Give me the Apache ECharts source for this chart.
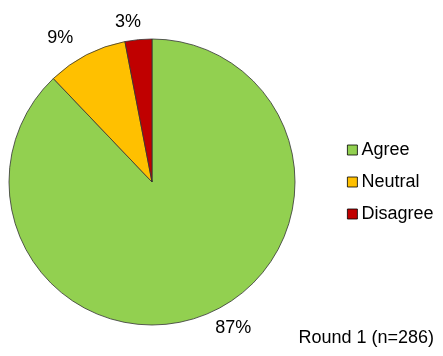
<!DOCTYPE html>
<html>
<head>
<meta charset="utf-8">
<script src="https://cdn.jsdelivr.net/npm/echarts@6/dist/echarts.min.js"></script>
<style>
  html, body { margin: 0; padding: 0; background: #fff; }
  #chart { width: 443px; height: 356px; }
</style>
</head>
<body>
<div id="chart"></div>
<script>
// Survey responses, Round 1
const categories = ['Agree', 'Neutral', 'Disagree'];
const shares = [87, 9, 3];
const colors = ['#92D050', '#FFC000', '#C00000'];
const roundLabel = 'Round 1 (n=286)';

const chart = echarts.init(document.getElementById('chart'), null, { renderer: 'canvas' });

const font = 'Liberation Sans, Arial, sans-serif';

// small nudges so the two narrow-slice labels sit clear of each other
const labelNudge = [[0, 0], [0, -8], [9, -4]];

chart.setOption({
  animation: false,
  color: colors,
  legend: {
    orient: 'vertical',
    left: 342,
    top: 136,
    itemWidth: 10,
    itemHeight: 10,
    itemGap: 14,
    icon: 'rect',
    itemStyle: { borderColor: '#000', borderWidth: 0.8 },
    textStyle: { fontFamily: font, fontSize: 18, color: '#000', padding: [0, 0, 0, -1] },
    data: categories
  },
  graphic: [{
    type: 'text',
    right: 9,
    top: 329,
    style: { text: roundLabel, font: '18px ' + font, fill: '#000' }
  }],
  series: [{
    type: 'pie',
    center: [152, 182],
    radius: 143,
    startAngle: 90,
    clockwise: true,
    itemStyle: { borderColor: '#333', borderWidth: 0.8 },
    label: {
      show: true,
      position: 'outside',
      formatter: '{c}%',
      fontFamily: font,
      fontSize: 18,
      color: '#000'
    },
    labelLine: { show: false, length: 14, length2: 0 },
    labelLayout: (p) => ({ dx: labelNudge[p.dataIndex][0], dy: labelNudge[p.dataIndex][1] }),
    emphasis: { disabled: true },
    data: categories.map((name, i) => ({ name, value: shares[i] }))
  }]
});
</script>
</body>
</html>
